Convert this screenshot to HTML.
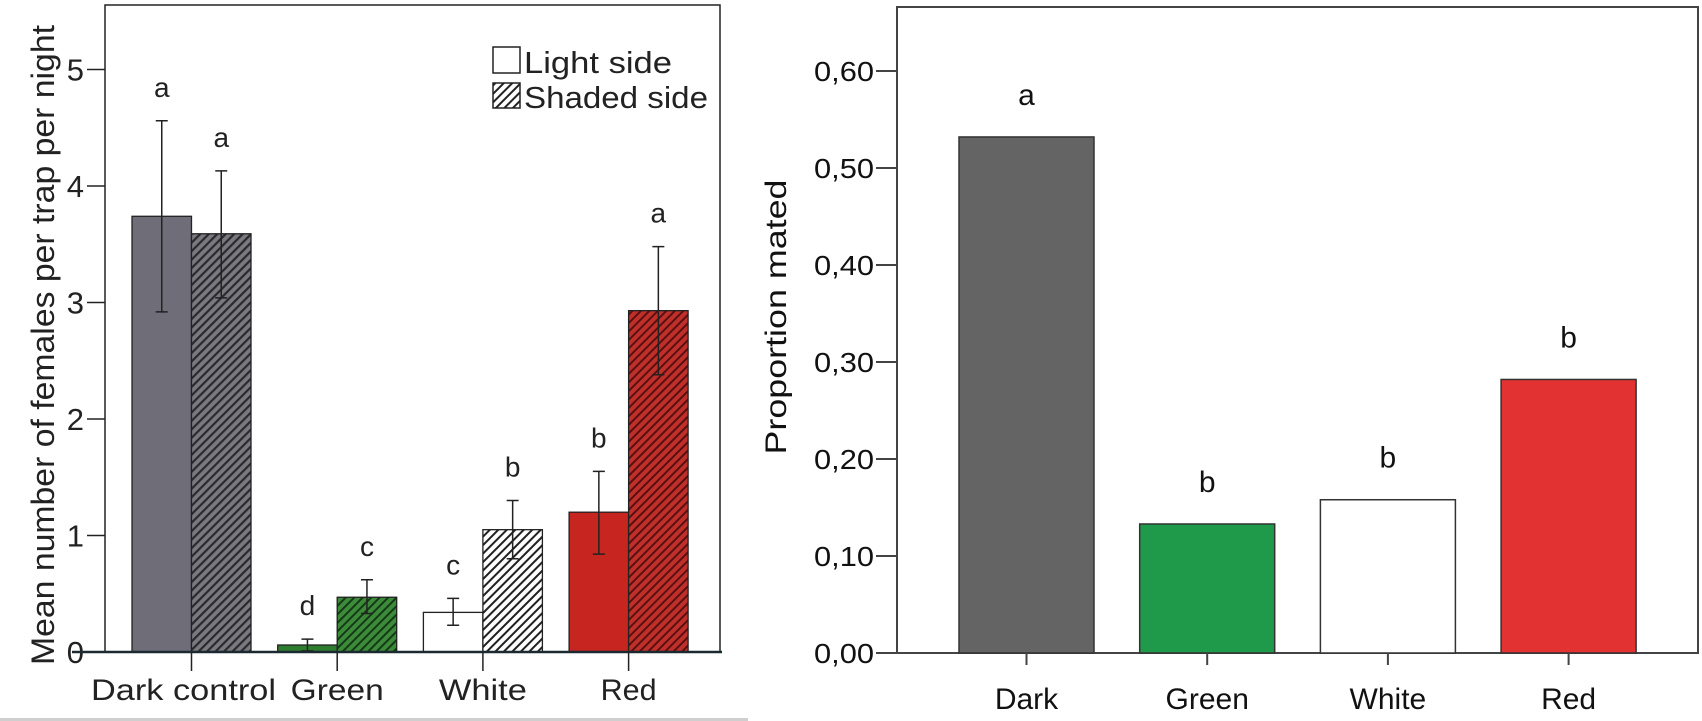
<!DOCTYPE html>
<html><head><meta charset="utf-8"><style>
html,body{margin:0;padding:0;background:#fff;}
svg{display:block;font-family:"Liberation Sans",sans-serif;}
</style></head><body>
<svg id="chart" width="1702" height="721" viewBox="0 0 1702 721">
<defs>
<pattern id="hatch-gray" patternUnits="userSpaceOnUse" width="6" height="6" patternTransform="rotate(45)"><rect width="6" height="6" fill="#7a7980"/><rect width="2.2" height="6" fill="#2a2a2e"/></pattern>
<pattern id="hatch-green" patternUnits="userSpaceOnUse" width="6" height="6" patternTransform="rotate(45)"><rect width="6" height="6" fill="#3d8a3a"/><rect width="2" height="6" fill="#123a14"/></pattern>
<pattern id="hatch-white" patternUnits="userSpaceOnUse" width="6" height="6" patternTransform="rotate(45)"><rect width="6" height="6" fill="#fff"/><rect width="2" height="6" fill="#222"/></pattern>
<pattern id="hatch-red" patternUnits="userSpaceOnUse" width="6" height="6" patternTransform="rotate(45)"><rect width="6" height="6" fill="#c0302a"/><rect width="2" height="6" fill="#5a1010"/></pattern>
</defs>
<rect x="0" y="718" width="748" height="3" fill="#cfcfcf"/>
<g id="left"></g>
<g id="right"></g>
</svg>
<script>
// Left chart data
const leftCategories = ["Dark control","Green","White","Red"];
const lightValues = [3.74,0.06,0.34,1.20];
const lightErrHi = [4.56,0.11,0.46,1.55];
const lightErrLo = [2.92,0.01,0.23,0.84];
const shadedValues = [3.59,0.47,1.05,2.93];
const shadedErrHi = [4.13,0.62,1.30,3.48];
const shadedErrLo = [3.04,0.33,0.80,2.38];
const lightLetters = ["a","d","c","b"];
const shadedLetters = ["a","c","b","a"];
const leftTicks = [0,1,2,3,4,5];
// Right chart data
const rightCategories = ["Dark","Green","White","Red"];
const rightValues = [0.532,0.133,0.158,0.282];
const rightLetters = ["a","b","b","b"];
const rightTicks = ["0,00","0,10","0,20","0,30","0,40","0,50","0,60"];
const rightTickValues = [0,0.1,0.2,0.3,0.4,0.5,0.6];

const NS="http://www.w3.org/2000/svg";
function mk(parent,tag,attrs,text){const e=document.createElementNS(NS,tag);for(const k in attrs)e.setAttribute(k,attrs[k]);if(text!==undefined)e.textContent=text;parent.appendChild(e);return e;}

// ---- Left
const L=document.getElementById('left');
const ly=v=>652-v*116.5;
const groupStart=i=>132+i*145.7;
const bw=59.5;
let e;
e=mk(L,'rect',{x:105,y:5,width:615,height:647,fill:'none',stroke:'#222','stroke-width':1.5});

const lightFill=['#6f6e78','#2f7d2f','#fff','#c7251f'];
const shadedFill=['url(#hatch-gray)','url(#hatch-green)','url(#hatch-white)','url(#hatch-red)'];
leftTicks.forEach(t=>{
  e=mk(L,'line',{x1:87,x2:105,y1:ly(t),y2:ly(t),stroke:'#222','stroke-width':1.5});
  
  e=mk(L,'text',{x:84,y:ly(t)+11,'text-anchor':'end','font-size':31,fill:'#222'},String(t));
  
});
function errbar(x,hi,lo,name){
  e=mk(L,'path',{d:`M${x} ${ly(hi)}V${ly(lo)}M${x-6} ${ly(hi)}H${x+6}M${x-6} ${ly(lo)}H${x+6}`,stroke:'#222','stroke-width':1.5,fill:'none'});
  
}
leftCategories.forEach((c,i)=>{
  const x0=groupStart(i), x1=x0+bw;
  e=mk(L,'rect',{x:x0,y:ly(lightValues[i]),width:bw,height:ly(0)-ly(lightValues[i]),fill:lightFill[i],stroke:'#222','stroke-width':1.3});
  
  e=mk(L,'rect',{x:x1,y:ly(shadedValues[i]),width:bw,height:ly(0)-ly(shadedValues[i]),fill:shadedFill[i],stroke:'#222','stroke-width':1.3});
  
  errbar(x0+bw/2,lightErrHi[i],lightErrLo[i],'error-bar-light');
  errbar(x1+bw/2,shadedErrHi[i],shadedErrLo[i],'error-bar-shaded');
  e=mk(L,'text',{x:x0+bw/2,y:ly(lightErrHi[i])-24,'text-anchor':'middle','font-size':28,fill:'#222'},lightLetters[i]);
  
  e=mk(L,'text',{x:x1+bw/2,y:ly(shadedErrHi[i])-24,'text-anchor':'middle','font-size':28,fill:'#222'},shadedLetters[i]);
  
  e=mk(L,'line',{x1:x1,x2:x1,y1:652,y2:671,stroke:'#222','stroke-width':1.5});
  
  e=mk(L,'text',{x:x1-8+(i==0?0:8),y:700,'text-anchor':'middle','font-size':30,fill:'#222',textLength:[185,93,88,56][i],lengthAdjust:'spacingAndGlyphs'},c);
  
});
e=mk(L,'line',{x1:72,x2:722,y1:652,y2:652,stroke:'#1a2a30','stroke-width':2.5});

e=mk(L,'text',{x:0,y:0,'text-anchor':'middle','font-size':32,fill:'#222',transform:'translate(54,345) rotate(-90)',textLength:640,lengthAdjust:'spacingAndGlyphs'},'Mean number of females per trap per night');

e=mk(L,'rect',{x:493,y:47,width:27,height:26,fill:'#fff',stroke:'#222','stroke-width':1.5});

e=mk(L,'text',{x:524,y:73,'font-size':31,fill:'#222',textLength:148,lengthAdjust:'spacingAndGlyphs'},'Light side');

e=mk(L,'rect',{x:493,y:83,width:27,height:25,fill:'url(#hatch-white)',stroke:'#222','stroke-width':1.5});

e=mk(L,'text',{x:524,y:108,'font-size':31,fill:'#222',textLength:184,lengthAdjust:'spacingAndGlyphs'},'Shaded side');


// ---- Right
const R=document.getElementById('right');
const ry=v=>653-v*970;
const rx=i=>959+i*180.7;
const rw=135;
const rFill=['#646464','#1e9a4a','#fff','#e33232'];
e=mk(R,'rect',{x:897,y:7,width:801,height:646,fill:'none',stroke:'#444','stroke-width':2});

rightTickValues.forEach((t,i)=>{
  e=mk(R,'line',{x1:876,x2:897,y1:ry(t),y2:ry(t),stroke:'#444','stroke-width':2});
  
  e=mk(R,'text',{x:874,y:ry(t)+10,'text-anchor':'end','font-size':28,fill:'#111',textLength:60,lengthAdjust:'spacingAndGlyphs'},rightTicks[i]);
  
});
rightCategories.forEach((c,i)=>{
  const x=rx(i),v=rightValues[i];
  e=mk(R,'rect',{x:x,y:ry(v),width:rw,height:ry(0)-ry(v),fill:rFill[i],stroke:'#333','stroke-width':1.5});
  
  e=mk(R,'text',{x:x+rw/2,y:ry(v)-32,'text-anchor':'middle','font-size':30,fill:'#111'},rightLetters[i]);
  
  e=mk(R,'line',{x1:x+rw/2,x2:x+rw/2,y1:653,y2:665,stroke:'#444','stroke-width':2});
  
  e=mk(R,'text',{x:x+rw/2,y:709,'text-anchor':'middle','font-size':30,fill:'#111'},c);
  
});
e=mk(R,'text',{x:0,y:0,'text-anchor':'middle','font-size':30,fill:'#111',transform:'translate(786,317) rotate(-90)',textLength:275,lengthAdjust:'spacingAndGlyphs'},'Proportion mated');

</script>
</body></html>
